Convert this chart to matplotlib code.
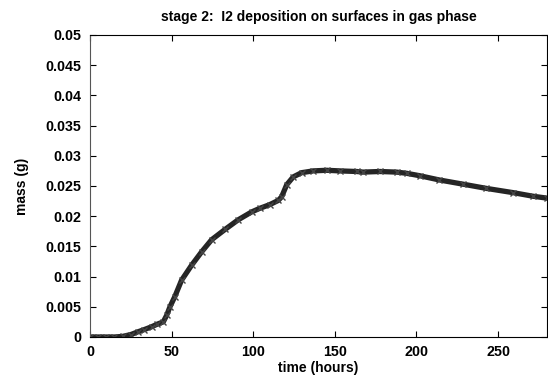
import matplotlib
matplotlib.use("Agg")
import matplotlib.pyplot as plt

# time (hours) and deposited I2 mass (g)
time_h = [0, 5, 10, 15, 20, 25, 29.6, 33, 37.8, 41, 44.9, 47, 49, 52, 56.1,
          62.3, 68.4, 74.5, 82.7, 90.8, 99, 104, 110, 115.3, 117.4, 120.5,
          124.5, 129.6, 136.7, 145, 153, 163.3, 167.4, 177.6, 187.8, 194,
          202, 214, 228.6, 242.9, 259.2, 271.5, 279.7]
mass_g = [0, 0, 0, 0, 0.0001, 0.0004, 0.00088, 0.0012, 0.0017, 0.0021, 0.0025,
          0.0036, 0.005, 0.0067, 0.0094, 0.0119, 0.0141, 0.0161, 0.0178, 0.0194,
          0.0207, 0.0213, 0.0219, 0.0226, 0.0232, 0.0252, 0.0265, 0.0272, 0.0275,
          0.0276, 0.0275, 0.0274, 0.0273, 0.0274, 0.0273, 0.0271, 0.0267, 0.026,
          0.0253, 0.0246, 0.0239, 0.0233, 0.023]

x_ticks = [0, 50, 100, 150, 200, 250]
y_ticks = [0, 0.005, 0.01, 0.015, 0.02, 0.025, 0.03, 0.035, 0.04, 0.045, 0.05]
y_labels = ["0", "0.005", "0.01", "0.015", "0.02", "0.025", "0.03",
            "0.035", "0.04", "0.045", "0.05"]

plt.rcParams['font.family'] = ['Liberation Sans', 'DejaVu Sans']
plt.rcParams['font.weight'] = 'bold'

fig = plt.figure(figsize=(5.48, 3.85), dpi=100)
ax = fig.add_axes([0.1642, 0.1247, 0.834, 0.7844])

ax.plot(time_h, mass_g, color='#252525', lw=3.8, solid_capstyle='round')
ax.plot(time_h, mass_g, ls='none', marker='x', ms=4, mew=1.0, color='#444444')

ax.set_xlim(0, 280)
ax.set_ylim(0, 0.05)
ax.set_xticks(x_ticks)
ax.set_xticklabels([str(t) for t in x_ticks])
ax.set_yticks(y_ticks)
ax.set_yticklabels(y_labels)
ax.tick_params(direction='in', length=4, width=0.8, top=True, right=True,
               labelsize=10.3, pad=6)
for lab in ax.get_xticklabels() + ax.get_yticklabels():
    lab.set_fontweight('bold')
ax.spines['left'].set_color('#555555')

ax.set_title("stage 2:  I2 deposition on surfaces in gas phase",
             fontsize=10, fontweight='bold', pad=10)
ax.set_xlabel("time (hours)", fontsize=10, fontweight='bold', labelpad=1)
ax.set_ylabel("mass (g)", fontsize=10, fontweight='bold', labelpad=12)

fig.savefig("out.png", dpi=100)
